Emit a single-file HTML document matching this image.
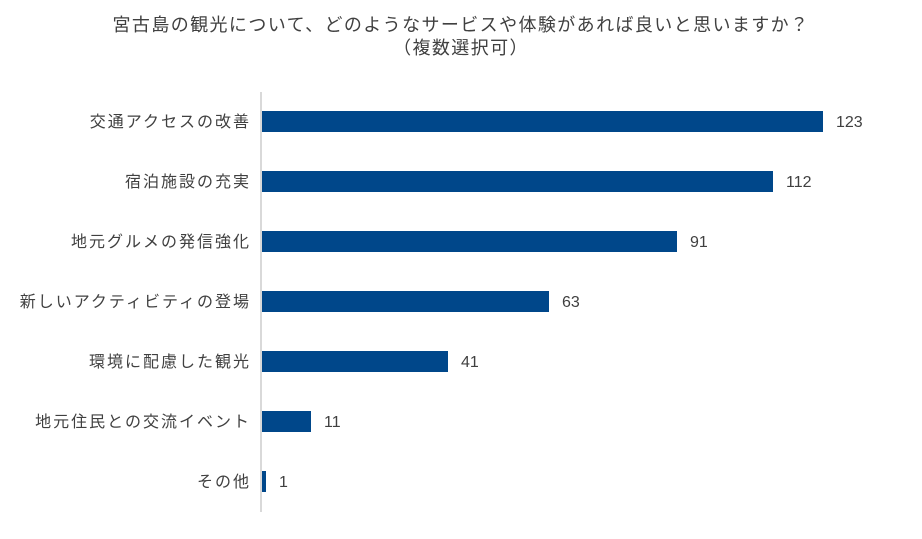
<!DOCTYPE html>
<html><head><meta charset="utf-8"><style>
html,body{margin:0;padding:0;background:#fff;}
svg text{font-family:"Liberation Sans","Noto Sans CJK JP",sans-serif;fill:#404040;}
</style></head><body>
<svg width="922" height="534" xmlns="http://www.w3.org/2000/svg">
<rect width="922" height="534" fill="#fff"/>
<text x="461" y="31" font-size="18" letter-spacing="1.4" text-anchor="middle" fill="#333">宮古島の観光について、どのようなサービスや体験があれば良いと思いますか？</text>
<text x="461" y="54" font-size="18" letter-spacing="1.4" text-anchor="middle" fill="#333">（複数選択可）</text>
<line x1="261" y1="92" x2="261" y2="512" stroke="#d9d9d9" stroke-width="2"/>
<g fill="#00478a">
<rect x="262" y="111" width="561" height="21"/>
<rect x="262" y="171" width="511" height="21"/>
<rect x="262" y="231" width="415" height="21"/>
<rect x="262" y="291" width="287" height="21"/>
<rect x="262" y="351" width="186" height="21"/>
<rect x="262" y="411" width="49" height="21"/>
<rect x="262" y="471" width="4" height="21"/>
</g>
<g font-size="16" letter-spacing="2" text-anchor="end">
<text x="251" y="127">交通アクセスの改善</text>
<text x="251" y="187">宿泊施設の充実</text>
<text x="251" y="247">地元グルメの発信強化</text>
<text x="251" y="307">新しいアクティビティの登場</text>
<text x="251" y="367">環境に配慮した観光</text>
<text x="251" y="427">地元住民との交流イベント</text>
<text x="251" y="487">その他</text>
</g>
<g font-size="16">
<text x="836" y="127">123</text>
<text x="786" y="187">112</text>
<text x="690" y="247">91</text>
<text x="562" y="307">63</text>
<text x="461" y="367">41</text>
<text x="324" y="427">11</text>
<text x="279" y="487">1</text>
</g>
</svg>
</body></html>
